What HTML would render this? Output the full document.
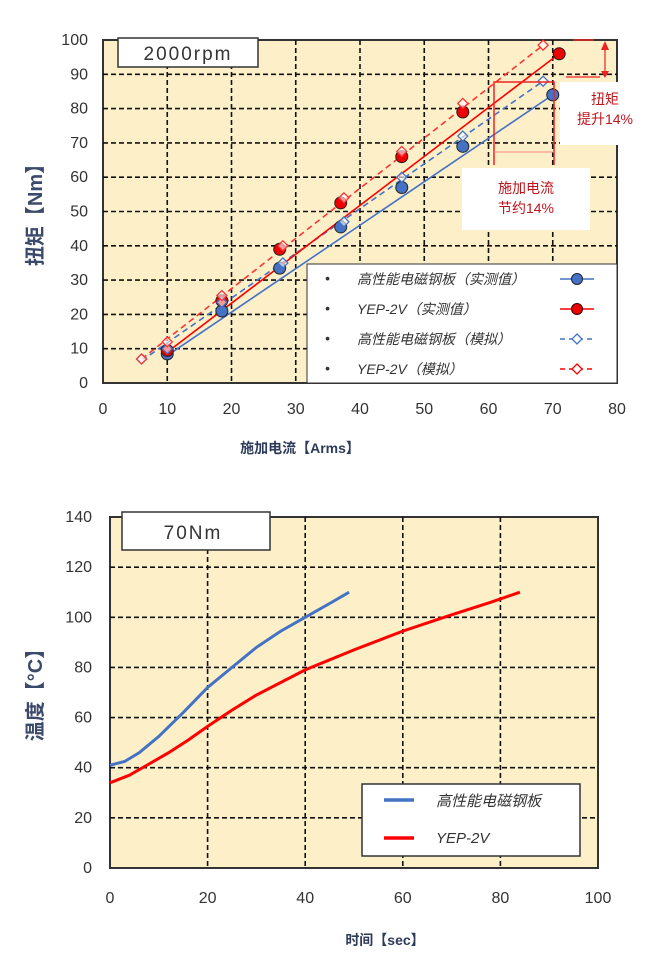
<!DOCTYPE html>
<html><head><meta charset="utf-8"><style>
body{margin:0;background:#fff;width:666px;height:970px;overflow:hidden}
svg{display:block}
text{font-family:"Liberation Sans","Noto Sans CJK SC",sans-serif}
</style></head><body>
<svg id="s" width="666" height="970" xmlns="http://www.w3.org/2000/svg">
<rect x="103" y="40" width="514" height="343" fill="#fdf0c9" stroke="#333" stroke-width="2"/>
<g id="tg" stroke="#111" stroke-width="1.6" stroke-dasharray="5,3"></g>
<g id="td"></g>
<rect x="118" y="38" width="140" height="29" fill="#fff" stroke="#333" stroke-width="1.5"/>
<text x="188" y="60" font-size="19" text-anchor="middle" fill="#333" letter-spacing="2">2000rpm</text>
<line x1="573" y1="40" x2="594" y2="40" stroke="#e22" stroke-width="1.5"/>
<line x1="566" y1="77" x2="600" y2="77" stroke="#e22" stroke-width="1.2"/>
<line x1="605" y1="44" x2="605" y2="74" stroke="#e22" stroke-width="1.2"/>
<polygon points="601,50 609,50 605,41" fill="#e22"/>
<polygon points="601,71 609,71 605,78" fill="#e22"/>
<rect x="560" y="82" width="106" height="63" fill="#fff"/>
<text x="605" y="104" font-size="14" fill="#c0141c" text-anchor="middle">扭矩</text>
<text x="605" y="124" font-size="14" fill="#c0141c" text-anchor="middle">提升14%</text>
<polyline points="494,165 494,82 554,82 554,165" fill="none" stroke="#e22" stroke-width="1.5"/>
<line x1="494" y1="152" x2="554" y2="152" stroke="#f88" stroke-width="1"/>
<rect x="462" y="168" width="128" height="62" fill="#fff"/>
<text x="526" y="193" font-size="14" fill="#c0141c" text-anchor="middle">施加电流</text>
<text x="526" y="213" font-size="14" fill="#c0141c" text-anchor="middle">节约14%</text>
<rect x="307" y="264" width="310" height="119" fill="#fff" stroke="#333" stroke-width="1"/>
<g font-size="14" font-style="italic" fill="#333">
<text x="325" y="283">•</text><text x="357" y="284">高性能电磁钢板（实测值）</text>
<text x="325" y="313">•</text><text x="357" y="314">YEP-2V（实测值）</text>
<text x="325" y="343">•</text><text x="357" y="344">高性能电磁钢板（模拟）</text>
<text x="325" y="373">•</text><text x="357" y="374">YEP-2V（模拟）</text>
</g>
<line x1="560" y1="279" x2="594" y2="279" stroke="#4472c4" stroke-width="1.5"/>
<circle cx="577" cy="279" r="5.5" fill="#4472c4" stroke="#223" stroke-width="1"/>
<line x1="560" y1="309" x2="594" y2="309" stroke="#f00" stroke-width="1.5"/>
<circle cx="577" cy="309" r="5.5" fill="#e00" stroke="#300" stroke-width="1"/>
<line x1="560" y1="339" x2="592" y2="339" stroke="#4472c4" stroke-width="1.5" stroke-dasharray="5,4"/>
<polygon points="577,334 582,339 577,344 572,339" fill="#fff" stroke="#4472c4" stroke-width="1.3"/>
<line x1="560" y1="369" x2="592" y2="369" stroke="#f00" stroke-width="1.5" stroke-dasharray="5,4"/>
<polygon points="577,364 582,369 577,374 572,369" fill="#fff" stroke="#f00" stroke-width="1.3"/>
<g id="tl" font-size="16" fill="#333"></g>
<text x="300" y="453" font-size="14" font-weight="bold" fill="#2d3a5a" text-anchor="middle">施加电流【Arms】</text>
<text transform="translate(42,210) rotate(-90)" font-size="20" font-weight="bold" fill="#3b4a6b" text-anchor="middle">扭矩【Nm】</text>

<rect x="110" y="517" width="488" height="351" fill="#fdf0c9" stroke="#333" stroke-width="2"/>
<g id="bg" stroke="#111" stroke-width="1.6" stroke-dasharray="5,3"></g>
<rect x="122" y="512" width="148" height="38" fill="#fff" stroke="#333" stroke-width="1.5"/>
<text x="193" y="539" font-size="19" text-anchor="middle" fill="#333" letter-spacing="2">70Nm</text>
<path id="bb" fill="none" stroke="#4472c4" stroke-width="3"/>
<path id="br" fill="none" stroke="#f00" stroke-width="3"/>
<rect x="362" y="784" width="218" height="72" fill="#fff" stroke="#333" stroke-width="1.5"/>
<line x1="384" y1="800" x2="414" y2="800" stroke="#4472c4" stroke-width="3.5"/>
<line x1="384" y1="838" x2="414" y2="838" stroke="#f00" stroke-width="3.5"/>
<text x="436" y="806" font-size="15" font-style="italic" fill="#333">高性能电磁钢板</text>
<text x="436" y="843" font-size="15" font-style="italic" fill="#333">YEP-2V</text>
<g id="bl" font-size="16" fill="#333"></g>
<text x="385" y="945" font-size="14" font-weight="bold" fill="#2d3a5a" text-anchor="middle">时间【sec】</text>
<text transform="translate(42,690) rotate(-90)" font-size="20" font-weight="bold" fill="#3b4a6b" text-anchor="middle">温度【°C】</text>
</svg>
<script>
var NS="http://www.w3.org/2000/svg";
function el(p,t,a,txt){var e=document.createElementNS(NS,t);for(var k in a)e.setAttribute(k,a[k]);if(txt!=null)e.textContent=txt;document.getElementById(p).appendChild(e);return e;}
function X(v){return 103+6.425*v} function Y(v){return 383-3.43*v}
for(var i=1;i<8;i++)el("tg","line",{x1:X(i*10),y1:40,x2:X(i*10),y2:383});
for(var i=1;i<10;i++)el("tg","line",{x1:103,y1:Y(i*10),x2:617,y2:Y(i*10)});
for(var i=0;i<=8;i++)el("tl","text",{x:X(i*10),y:414,"text-anchor":"middle"},i*10);
for(var i=0;i<=10;i++)el("tl","text",{x:88,y:Y(i*10)+5,"text-anchor":"end"},i*10);
var bm=[[10,8.5],[18.5,21],[27.5,33.5],[37,45.5],[46.5,57],[56,69],[70,84]];
var rm=[[10,9.5],[18.5,24],[27.5,39],[37,52.5],[46.5,66],[56,79],[71,96]];
var bs=[[6,7],[10,10],[18.5,23.5],[28,35],[37.5,47],[46.5,60],[56,72],[68.5,88]];
var rs=[[6,7],[10,12],[18.5,25.5],[28,40],[37.5,54],[46.5,67.5],[56,81.5],[68.5,98.5]];
function ln(a,b,c,d,col,dash){el("td","line",{x1:X(a),y1:Y(b),x2:X(c),y2:Y(d),stroke:col,"stroke-width":1.6,"stroke-dasharray":dash||"none"});}
ln(6,6.5,68.5,88,"#4472c4","6,4");ln(6,7,68.5,98.5,"#f33","6,4");
ln(10,8,70,84,"#4472c4");ln(10,9,71,96,"#f00");
function dia(p,col){p.forEach(function(q){var x=X(q[0]),y=Y(q[1]);el("td","polygon",{points:(x)+","+(y-5)+" "+(x+5)+","+y+" "+x+","+(y+5)+" "+(x-5)+","+y,fill:"#fff","fill-opacity":0.6,stroke:col,"stroke-width":1.3});});}
function cir(p,col){p.forEach(function(q){el("td","circle",{cx:X(q[0]),cy:Y(q[1]),r:6,fill:col,stroke:"#222","stroke-width":1});});}
cir(bm,"#4472c4");cir(rm,"#e00");dia(bs,"#4472c4");dia(rs,"#f33");
function BX(v){return 110+4.88*v} function BY(v){return 868-2.507*v}
for(var i=1;i<5;i++)el("bg","line",{x1:BX(i*20),y1:517,x2:BX(i*20),y2:868});
for(var i=1;i<7;i++)el("bg","line",{x1:110,y1:BY(i*20),x2:598,y2:BY(i*20)});
for(var i=0;i<=5;i++)el("bl","text",{x:BX(i*20),y:903,"text-anchor":"middle"},i*20);
for(var i=0;i<=7;i++)el("bl","text",{x:92,y:BY(i*20)+5,"text-anchor":"end"},i*20);
function pth(p){return p.map(function(q,i){return (i?"L":"M")+BX(q[0]).toFixed(1)+","+BY(q[1]).toFixed(1)}).join(" ");}
document.getElementById("bb").setAttribute("d",pth([[0,41],[3,42.5],[6,46],[10,52.5],[15,62],[20,72],[25,80],[30,88],[35,94.5],[40,100],[45,105.5],[49,110]]));
document.getElementById("br").setAttribute("d",pth([[0,34],[4,37],[8,41.5],[12,46],[16,51],[20,56.5],[25,63],[30,69],[40,79],[50,87],[60,94.5],[70,101],[78,106],[84,110]]));
</script>
</body></html>
